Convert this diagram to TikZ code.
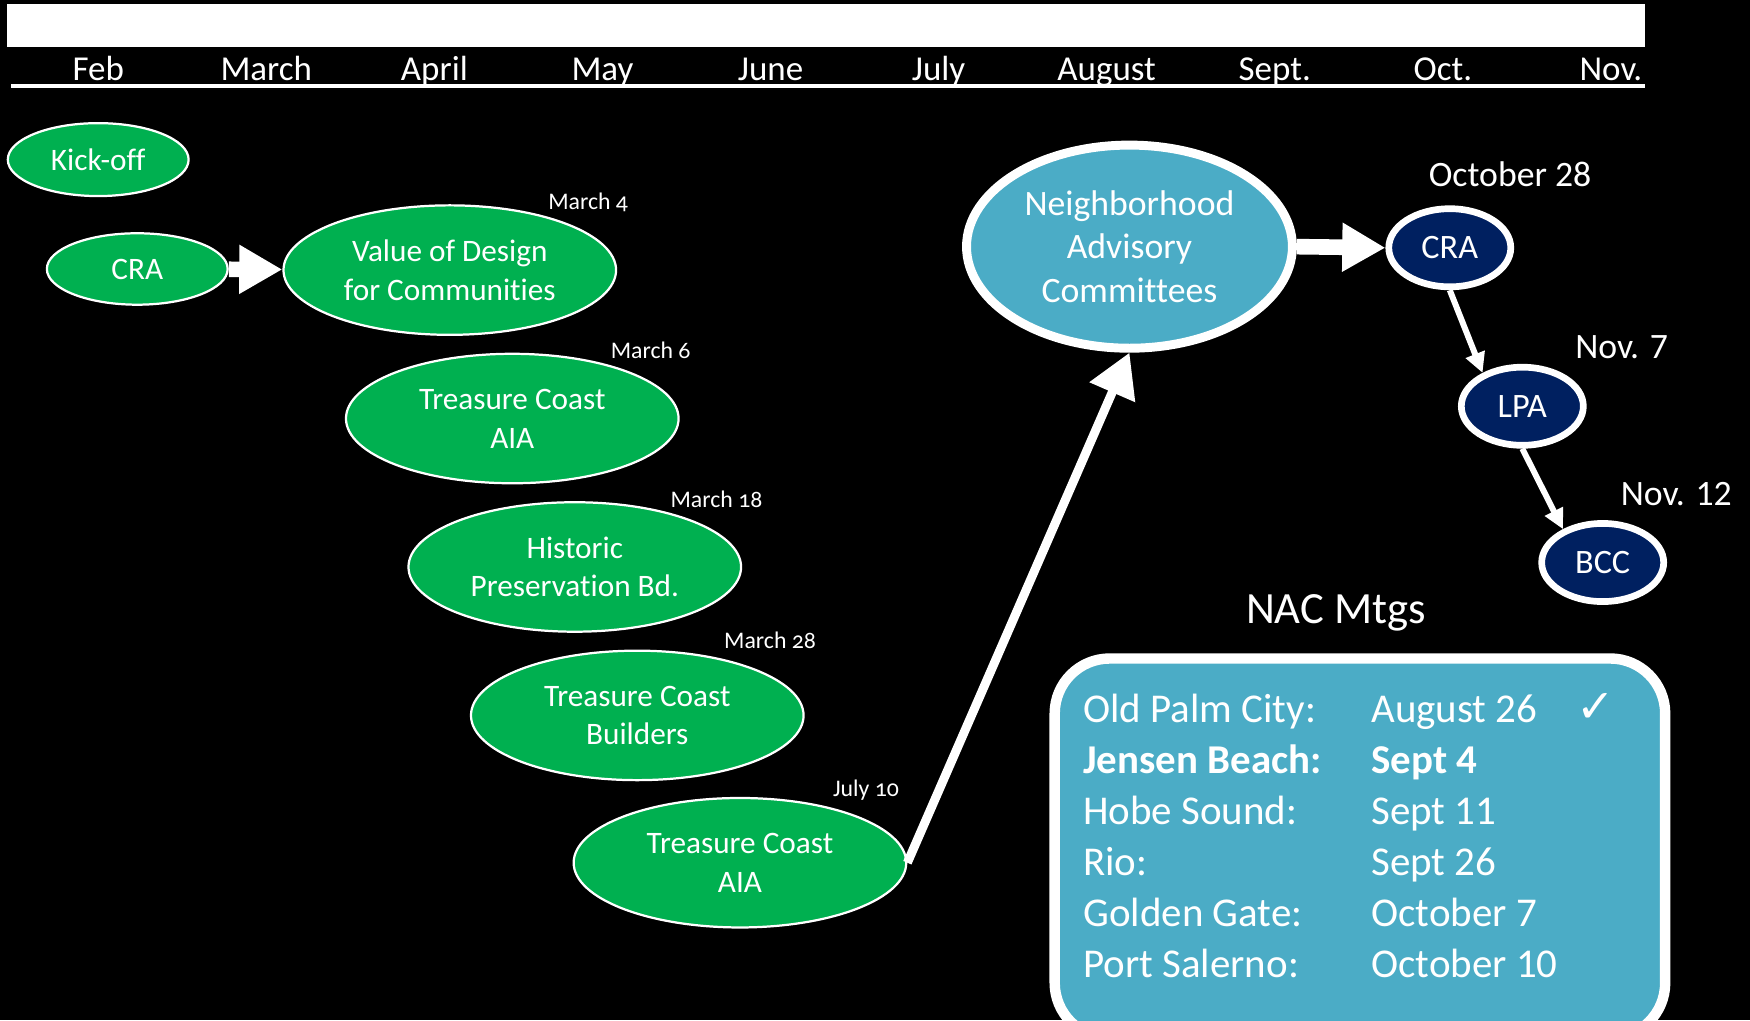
\documentclass[tikz,border=0pt]{standalone}
\usepackage{fontspec}
\setmainfont{Carlito}[Ligatures=NoCommon]
\newfontfamily\datefont{Carlito}[Numbers=OldStyle, Ligatures=NoCommon]
\newfontfamily\symfont{DejaVu Sans}
\usepackage{tikz}
\usetikzlibrary{shapes.geometric,arrows.meta,positioning}
\definecolor{mtggreen}{HTML}{00B050}
\definecolor{nacblue}{HTML}{4BACC6}
\definecolor{boardnavy}{HTML}{002060}

\begin{document}
\begin{tikzpicture}[x=0.75pt, y=-0.75pt, every node/.style={text=white},
    month/.style={font=\fontsize{23.5}{28}\selectfont, anchor=base},
    greenmtg/.style={ellipse, draw=white, line width=1.5pt, fill=mtggreen, inner sep=0pt,
        minimum width=223.5pt, minimum height=87pt, align=center, font=\fontsize{21}{26}\selectfont},
    smallmtg/.style={greenmtg, minimum width=121.5pt, minimum height=49pt},
    mtgdate/.style={font=\datefont\fontsize{16}{19}\selectfont},
    board/.style={ellipse, draw=white, line width=4.5pt, fill=boardnavy, inner sep=0pt,
        minimum width=82pt, minimum height=52.5pt, font=\fontsize{23}{27}\selectfont},
    boarddate/.style={font=\fontsize{24}{28}\selectfont},
    row/.style={anchor=base west, font=\fontsize{27.5}{32}\selectfont},
    blockarrow/.style={white, line width=10.5pt, -{Triangle[length=29pt, width=31pt]}},
    thinarrow/.style={white, line width=4pt, -{Triangle[length=13.5pt, width=13pt]}}]
    \clip (0,0) rectangle (1568,914);
    \fill[black] (0,0) rectangle (1568,914);

    % Timeline
    \fill[white] (6,4) rectangle (1474,42);
    \foreach \m [count=\i from 0] in {Feb,March,April,May,June,July,August,Sept.,Oct.,Nov.}
        \node[month] (m\i) at (88+150.6*\i,72) {\m};
    \draw[white, line width=2.5pt] (10,77) -- (1474,77);

    % Early meetings
    \node[smallmtg] (kickoff) at (88,143) {Kick-off};
    \node[smallmtg, minimum height=48pt] (cra1) at (123,241) {CRA};
    \node[greenmtg] (valuedesign) at (403,242) {Value of Design\\for Communities};
    \node[greenmtg] (tcaia1) at (459,375) {Treasure Coast\\AIA};
    \node[greenmtg] (historic) at (515,508) {Historic\\Preservation Bd.};
    \node[greenmtg] (tcbuild) at (571,641) {Treasure Coast\\Builders};
    \node[greenmtg] (tcaia2) at (663,773) {Treasure Coast\\AIA};

    % Dates
    \node[mtgdate] (d1) at (527,181) {March 4};
    \node[mtgdate] (d2) at (583,314) {March 6};
    \node[mtgdate] (d3) at (642,447) {March 18};
    \node[mtgdate] (d4) at (690,574) {March 28};
    \node[mtgdate] (d5) at (776,708) {July 10};

    % Neighborhood committees
    \node[ellipse, draw=white, line width=6pt, fill=nacblue, inner sep=0pt, minimum width=219pt,
        minimum height=136.5pt, align=center, font=\fontsize{24}{29}\selectfont] (nac) at (1012,221)
        {Neighborhood\\Advisory\\Committees};

    % Boards
    \node[board] (cra2) at (1299,222) {CRA};
    \node[board] (lpa) at (1364,364) {LPA};
    \node[board] (bcc) at (1436,504) {BCC};
    \node[boarddate] (d6) at (1353,156) {October 28};
    \node[boarddate] (d7) at (1453,311) {Nov. 7};
    \node[boarddate] (d8) at (1502,443) {Nov. 12};

    % Edges
    \draw[blockarrow] (cra1) -- (valuedesign);
    \draw[white, line width=6pt, -{Triangle[length=29pt, width=32pt]}] (tcaia2.east) -- (nac.south);
    \draw[blockarrow] (nac.east) -- (cra2.west);
    \draw[thinarrow] (cra2.south) -- (lpa.140);
    \draw[thinarrow] (lpa.south) -- (bcc.140);

    % NAC meetings
    \node[font=\fontsize{30}{36}\selectfont] (nactitle) at (1197,549) {NAC Mtgs};
    \draw[white, line width=7pt, fill=nacblue, rounded corners=37pt] (945,590) rectangle (1492,930);
    \node[row] (r1a) at (966,647) {Old Palm City:};
    \node[row] (r1b) at (1224,647) {August 26};
    \node[font=\symfont\bfseries\fontsize{31}{36}\selectfont] (tick) at (1430,634) {✓};
    \node[row, font=\bfseries\fontsize{27.5}{32}\selectfont] (r2a) at (966,693) {Jensen Beach:};
    \node[row, font=\bfseries\fontsize{27.5}{32}\selectfont] (r2b) at (1224,693) {Sept 4};
    \node[row] (r3a) at (966,739) {Hobe Sound:};
    \node[row] (r3b) at (1224,739) {Sept 11};
    \node[row] (r4a) at (966,784) {Rio:};
    \node[row] (r4b) at (1224,784) {Sept 26};
    \node[row] (r5a) at (966,830) {Golden Gate:};
    \node[row] (r5b) at (1224,830) {October 7};
    \node[row] (r6a) at (966,876) {Port Salerno:};
    \node[row] (r6b) at (1224,876) {October 10};
\end{tikzpicture}
\end{document}
